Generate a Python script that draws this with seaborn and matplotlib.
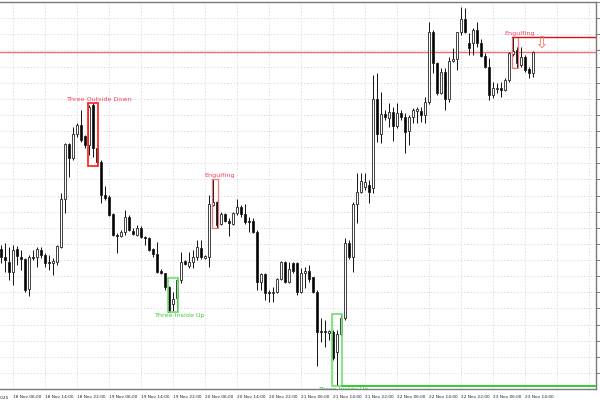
import numpy as np
import pandas as pd
import matplotlib
matplotlib.use("Agg")
import matplotlib.pyplot as plt
import matplotlib.transforms as mtransforms
import seaborn as sns
from matplotlib.patches import Rectangle


# =========================
# 1. Candle data (H1 bars, price in chart units)
# =========================

open_ = [151, 143, 138, 128, 151, 143, 141, 111, 143, 143, 150, 145, 138, 137, 138, 153, 201, 256, 242, 266,
         275, 264, 255, 295, 252, 238, 205, 203, 186, 165, 164, 168, 183, 169, 165, 172, 163, 162, 151, 146,
         129, 127, 113, 96, 102, 120, 139, 134, 138, 143, 152, 142, 143, 195, 198, 176, 186, 179, 176, 187,
         193, 186, 179, 179, 168, 118, 126, 108, 107, 108, 121, 138, 118, 137, 137, 108, 127, 129, 123, 108,
         69, 69, 67, 68, 48, 66, 82, 157, 143, 196, 208, 213, 215, 212, 301, 266, 286, 282, 288, 274,
         287, 283, 269, 283, 289, 289, 285, 298, 368, 337, 307, 328, 301, 339, 341, 368, 381, 357, 357, 370,
         357, 344, 333, 305, 311, 312, 310, 320, 346, 350, 335, 343, 331, 327]
high = [155, 157, 153, 155, 154, 150, 142, 145, 150, 153, 153, 147, 145, 142, 155, 207, 257, 257, 273, 277,
        290, 265, 295, 297, 253, 240, 214, 205, 187, 167, 170, 190, 185, 172, 175, 174, 164, 163, 152, 158,
        131, 127, 114, 108, 122, 148, 140, 148, 150, 160, 160, 145, 205, 221, 199, 188, 187, 182, 188, 201,
        195, 196, 183, 182, 170, 127, 127, 110, 113, 122, 139, 139, 138, 138, 138, 132, 133, 135, 123, 110,
        82, 80, 70, 70, 70, 86, 162, 160, 198, 227, 227, 227, 220, 325, 327, 308, 290, 297, 293, 297,
        290, 287, 285, 292, 293, 293, 303, 378, 370, 338, 332, 332, 343, 352, 368, 393, 392, 367, 372, 378,
        361, 347, 342, 318, 317, 318, 322, 348, 363, 353, 353, 345, 333, 349]
low = [137, 128, 120, 115, 135, 130, 108, 104, 140, 133, 142, 133, 130, 125, 135, 152, 187, 223, 240, 263,
       258, 252, 245, 243, 234, 197, 200, 184, 164, 147, 163, 165, 169, 165, 164, 162, 155, 149, 143, 127,
       126, 110, 88, 88, 88, 117, 135, 132, 132, 140, 141, 141, 133, 194, 172, 175, 178, 164, 175, 185,
       183, 176, 168, 167, 110, 110, 100, 98, 98, 107, 120, 117, 117, 127, 105, 107, 112, 118, 107, 34,
       58, 53, 60, 40, 14, 64, 80, 141, 128, 177, 207, 210, 197, 207, 258, 257, 280, 273, 259, 272,
       280, 247, 255, 277, 277, 278, 277, 296, 327, 305, 306, 290, 298, 338, 330, 365, 367, 345, 345, 353,
       343, 332, 300, 302, 307, 303, 309, 318, 344, 332, 333, 328, 322, 323]
close = [143, 140, 128, 150, 144, 141, 110, 143, 142, 151, 145, 137, 137, 139, 154, 201, 256, 242, 266, 275,
         260, 255, 293, 252, 238, 205, 202, 185, 165, 164, 168, 183, 170, 166, 172, 163, 162, 150, 146, 128,
         127, 113, 88, 101, 120, 138, 136, 138, 143, 153, 143, 144, 196, 198, 175, 186, 179, 177, 187, 193,
         186, 178, 178, 168, 118, 126, 107, 107, 108, 121, 138, 118, 131, 129, 108, 127, 129, 121, 108, 68,
         68, 68, 69, 42, 66, 82, 157, 143, 196, 208, 219, 218, 208, 301, 266, 286, 283, 288, 274, 287,
         283, 268, 283, 290, 291, 285, 298, 368, 337, 307, 328, 301, 339, 341, 368, 381, 368, 352, 370, 357,
         344, 333, 305, 312, 312, 310, 320, 347, 349, 337, 343, 330, 327, 348]

time_labels = ["18 Nov 06:00", "18 Nov 14:00", "18 Nov 22:00", "19 Nov 06:00", "19 Nov 14:00",
               "19 Nov 22:00", "20 Nov 06:00", "20 Nov 14:00", "20 Nov 22:00", "21 Nov 06:00",
               "21 Nov 14:00", "21 Nov 22:00", "22 Nov 06:00", "22 Nov 14:00", "22 Nov 22:00",
               "23 Nov 06:00", "23 Nov 14:00"]
first_label = "17 Nov 2025"

# detected patterns: name, first bar, last bar, bullish?
pattern_names = ["Three Outside Down", "Three Inside Up", "Engulfing", "Three Inside Up", "Engulfing"]
pattern_first = [22, 42, 53, 83, 128]
pattern_last = [24, 44, 54, 85, 129]
pattern_bull = [False, True, False, True, False]

df = pd.DataFrame({"open": open_, "high": high, "low": low, "close": close})
df["bar"] = np.arange(len(df))
df["bull"] = df["close"] >= df["open"]


# =========================
# 2. Figure / axes (MT4 style)
# =========================

sns.set_theme(style="white")
plt.rcParams["font.family"] = ["DejaVu Sans"]

fig = plt.figure(figsize=(6, 4), dpi=100)
ax = fig.add_axes([0.0, 0.0275, 596 / 600, 0.9675])
ax.set_xlim(-0.25, 148.75)
ax.set_ylim(11, 398)
ax.set_facecolor("white")

# grid
grid_x = np.arange(3, 149, 8)
grid_y = np.linspace(27, 398, 24)
for gx in grid_x:
    ax.axvline(gx, color="#dcdcdc", lw=0.6, ls=(0, (2, 2)), zorder=0)
for gy in grid_y:
    ax.axhline(gy, color="#dcdcdc", lw=0.6, ls=(0, (2, 2)), zorder=0)


# =========================
# 3. Candles
# =========================

ax.vlines(df["bar"], df["low"], df["high"], color="#111111", lw=0.7, zorder=2)
body_bottom = df[["open", "close"]].min(axis=1)
body_height = (df["close"] - df["open"]).abs()
ax.bar(df["bar"], body_height, bottom=body_bottom, width=0.55,
       color=np.where(df["bull"], "white", "black"),
       edgecolor="#222222", linewidth=0.6, zorder=3)


# =========================
# 4. Pattern boxes and labels
# =========================

for name, a, b, bull in zip(pattern_names, pattern_first, pattern_last, pattern_bull):
    top = df["high"][a:b + 1].max()
    bottom = df["low"][a:b + 1].min()
    if bull:
        col, tcol, lw = "#6ee06e", "#3ccc3c", 1.2
    elif name == "Engulfing":
        col, tcol, lw = "#f07a7a", "#ff3b5c", 0.9
    else:
        col, tcol, lw = "#ff2a2a", "#ff3b5c", 1.3
    ax.add_patch(Rectangle((a - 0.3, bottom), b - a + 0.6, top - bottom,
                           fill=False, edgecolor=col, lw=lw, zorder=4))
    if bull:
        ax.text(b + 0.6, bottom - 1, name, color=tcol, fontsize=4.6,
                ha="center", va="top", zorder=5, clip_on=True)
    else:
        ax.text(b + 0.6, top + 1, name, color=tcol, fontsize=4.6,
                ha="center", va="bottom", zorder=5, clip_on=True)

# support line from last bullish pattern low, resistance from last engulfing high
support = df["low"][pattern_first[3]:pattern_last[3] + 1].min()
ax.plot([pattern_last[3] + 0.3, 148.75], [support, support], color="#33cc33", lw=1.4, zorder=4)
resist = df["high"][pattern_first[4]:pattern_last[4] + 1].max()
ax.plot([pattern_first[4] - 0.3, 148.75], [resist, resist], color="#dd1111", lw=1.0, zorder=4)

# current price line
ax.axhline(close[-1], color="#f07070", lw=1.0, zorder=1)
ax.text(1.003, close[-1], "1", transform=mtransforms.blended_transform_factory(ax.transAxes, ax.transData),
        color="#e00000", fontsize=5, fontweight="bold", va="center", ha="left", clip_on=False)

# sell arrow
ax.text(len(df) + 1.0, resist - 6.0, "\u21e9", color="#ff7a66", fontsize=12,
        ha="center", va="center", zorder=5)


# =========================
# 5. Axes styling
# =========================

tick_bars = np.arange(3, 3 + 8 * len(time_labels), 8)
ax.set_xticks(tick_bars)
ax.set_xticklabels(time_labels, fontsize=3.1, ha="left", color="#222222")
ax.text(1.75, -0.018, first_label, transform=mtransforms.blended_transform_factory(ax.transData, ax.transAxes),
        fontsize=3.1, ha="right", va="top", color="#222222", clip_on=False)

ax.yaxis.tick_right()
ax.set_yticks(grid_y)
ax.tick_params(axis="y", which="both", length=4, width=0.6, color="#666666", labelright=False)
ax.tick_params(axis="x", length=2.5, width=0.6, color="#666666", pad=1.5)

for side in ["top", "right", "bottom"]:
    ax.spines[side].set_color("#7a7a7a")
    ax.spines[side].set_linewidth(1.0)
ax.spines["left"].set_visible(False)

ax.set_xlabel("")
ax.set_ylabel("")

fig.savefig("out.png", dpi=100)
